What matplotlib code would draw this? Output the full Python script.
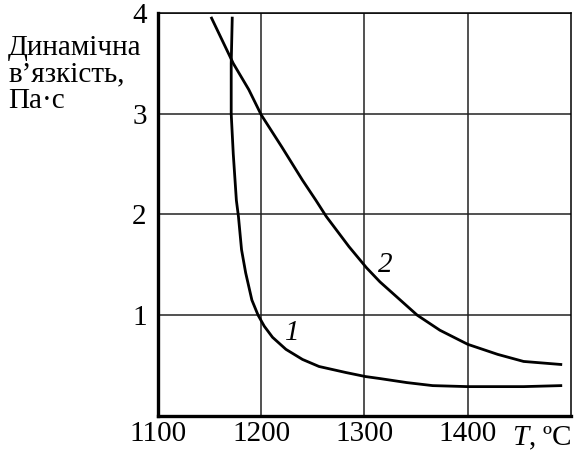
import matplotlib
matplotlib.use("Agg")
import matplotlib.pyplot as plt

plt.rcParams["font.family"] = ["Liberation Serif", "DejaVu Serif"]
plt.rcParams["mathtext.fontset"] = "custom"
plt.rcParams["mathtext.it"] = "Liberation Serif:italic"
plt.rcParams["mathtext.rm"] = "Liberation Serif"

# curve 1 (steep drop near 1170 °C)
t1 = [1172, 1171, 1171, 1173, 1176, 1178, 1181, 1185, 1191, 1197, 1203,
      1211, 1224, 1240, 1256, 1282, 1301, 1315, 1341, 1366, 1400, 1454, 1490]
v1 = [3.95, 3.5, 3.0, 2.6, 2.14, 1.98, 1.65, 1.42, 1.15, 1.0, 0.89,
      0.78, 0.66, 0.56, 0.49, 0.43, 0.39, 0.37, 0.33, 0.30, 0.29, 0.29, 0.30]
# curve 2 (gradual decrease)
t2 = [1152, 1173, 1188, 1200, 1220, 1240, 1253, 1263, 1285, 1302, 1315,
      1327, 1351, 1373, 1400, 1429, 1454, 1490]
v2 = [3.95, 3.5, 3.24, 2.99, 2.67, 2.34, 2.14, 1.98, 1.68, 1.47, 1.33,
      1.22, 1.0, 0.85, 0.71, 0.61, 0.54, 0.51]

xticks = [1100, 1200, 1300, 1400]
yticks = [1, 2, 3, 4]
ylabel_lines = ["Динамічна", "в’язкість,", "Па·с"]

fig = plt.figure(figsize=(5.74, 4.51), dpi=100)
ax = fig.add_axes([0.275, 0.078, 0.72, 0.893])

ax.plot(t1, v1, color="black", lw=2.0, solid_joinstyle="round")
ax.plot(t2, v2, color="black", lw=2.0, solid_joinstyle="round")

ax.set_xlim(1100, 1500)
ax.set_ylim(0, 4)
ax.set_xticks(xticks)
ax.set_yticks(yticks)
ax.tick_params(length=0, labelsize=21)
ax.tick_params(axis="x", pad=4)
ax.tick_params(axis="y", pad=8)
ax.grid(True, color="#222222", lw=1.1)

for side in ("left", "bottom"):
    ax.spines[side].set_linewidth(2.4)
for side in ("top", "right"):
    ax.spines[side].set_linewidth(1.1)

ax.text(1230, 0.82, "1", fontsize=21, style="italic", ha="center", va="center")
ax.text(1320, 1.50, "2", fontsize=21, style="italic", ha="center", va="center")

ax.text(1500, -0.29, "$T$, ºC", fontsize=21, ha="right", va="baseline")

# y label as three separate lines (keeps the tight spacing of the original)
for k, line in enumerate(ylabel_lines):
    fig.text(0.014, 0.878 - 0.059 * k, line, fontsize=21,
             ha="left", va="baseline")

fig.savefig("out.png", dpi=100)
